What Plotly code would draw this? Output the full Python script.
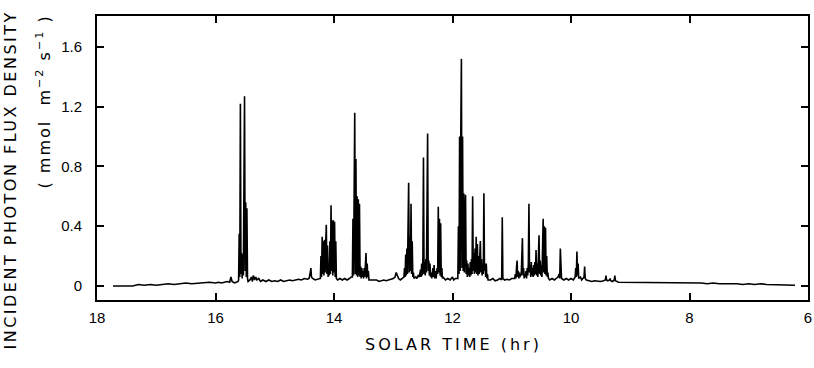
import plotly.graph_objects as go

# Solar time (hr) and incident photon flux density (mmol m-2 s-1)
LATE_AFTERNOON = [(17.73, 0.00), (17.60, 0.00), (17.50, 0.005), (17.40, 0.00), (17.30, 0.01), (17.20, 0.005),
                  (17.10, 0.01), (17.00, 0.005), (16.90, 0.01), (16.80, 0.015), (16.70, 0.01), (16.60, 0.015),
                  (16.50, 0.02), (16.40, 0.015), (16.30, 0.02), (16.20, 0.02), (16.10, 0.025), (16.00, 0.02),
                  (15.95, 0.025), (15.90, 0.02), (15.85, 0.025), (15.80, 0.03), (15.76, 0.025), (15.74, 0.06),
                  (15.72, 0.03), (15.68, 0.02), (15.65, 0.025), (15.62, 0.03)]
FLECK_1555 = [(15.61, 0.04), (15.60, 0.35), (15.59, 0.06), (15.58, 1.22), (15.57, 0.08), (15.56, 0.22),
              (15.55, 0.05), (15.54, 0.21), (15.53, 0.07), (15.52, 0.95), (15.51, 1.27), (15.50, 0.10),
              (15.49, 0.56), (15.48, 0.06), (15.47, 0.52), (15.46, 0.05), (15.45, 0.03)]
GAP_15_14 = [(15.42, 0.04), (15.39, 0.06), (15.38, 0.03), (15.36, 0.07), (15.34, 0.04), (15.32, 0.06),
             (15.30, 0.04), (15.27, 0.05), (15.24, 0.03), (15.20, 0.04), (15.15, 0.03), (15.10, 0.04),
             (15.05, 0.03), (15.00, 0.035), (14.95, 0.03), (14.90, 0.04), (14.85, 0.03), (14.80, 0.035),
             (14.75, 0.04), (14.70, 0.035), (14.65, 0.04), (14.60, 0.045), (14.55, 0.04), (14.50, 0.05),
             (14.45, 0.045), (14.42, 0.05), (14.40, 0.09), (14.39, 0.12), (14.38, 0.06), (14.36, 0.05),
             (14.32, 0.04), (14.28, 0.045), (14.25, 0.05)]
FLECK_1410 = [(14.23, 0.05), (14.22, 0.20), (14.21, 0.06), (14.20, 0.33), (14.19, 0.08), (14.18, 0.30),
              (14.17, 0.07), (14.16, 0.31), (14.15, 0.09), (14.14, 0.28), (14.13, 0.41), (14.12, 0.08),
              (14.11, 0.27), (14.10, 0.06), (14.09, 0.15), (14.08, 0.07), (14.07, 0.30), (14.06, 0.08),
              (14.05, 0.54), (14.04, 0.10), (14.03, 0.44), (14.02, 0.07), (14.01, 0.44), (14.00, 0.09),
              (13.99, 0.43), (13.98, 0.06), (13.97, 0.30), (13.96, 0.05), (13.94, 0.04),
              (13.90, 0.05), (13.86, 0.04), (13.82, 0.05), (13.78, 0.04), (13.74, 0.05), (13.71, 0.06)]
FLECK_1360 = [(13.69, 0.06), (13.68, 0.45), (13.67, 0.07), (13.66, 0.50), (13.65, 1.16), (13.64, 0.08),
              (13.63, 0.85), (13.62, 0.07), (13.61, 0.60), (13.60, 0.06), (13.59, 0.58), (13.58, 0.07),
              (13.57, 0.55), (13.56, 0.06), (13.55, 0.13), (13.54, 0.05), (13.53, 0.12), (13.52, 0.06),
              (13.51, 0.10), (13.50, 0.05), (13.49, 0.12), (13.48, 0.06), (13.47, 0.20), (13.46, 0.22),
              (13.45, 0.05), (13.44, 0.15), (13.43, 0.06), (13.42, 0.10), (13.41, 0.04)]
GAP_13 = [(13.36, 0.04), (13.32, 0.035), (13.28, 0.04), (13.24, 0.03), (13.20, 0.035), (13.16, 0.04),
          (13.12, 0.035), (13.08, 0.04), (13.04, 0.045), (13.00, 0.05), (12.97, 0.06), (12.95, 0.09),
          (12.93, 0.07), (12.91, 0.05), (12.88, 0.04), (12.85, 0.05)]
FLECK_1275 = [(12.82, 0.06), (12.81, 0.12), (12.80, 0.06), (12.79, 0.21), (12.78, 0.07), (12.77, 0.25),
              (12.76, 0.08), (12.75, 0.40), (12.74, 0.69), (12.73, 0.09), (12.72, 0.33), (12.71, 0.10),
              (12.70, 0.55), (12.69, 0.08), (12.68, 0.30), (12.67, 0.06), (12.66, 0.09), (12.65, 0.05),
              (12.62, 0.06), (12.60, 0.05), (12.58, 0.07), (12.56, 0.06)]
FLECK_1245 = [(12.55, 0.08), (12.54, 0.11), (12.53, 0.06), (12.52, 0.15), (12.51, 0.07), (12.50, 0.17),
              (12.49, 0.86), (12.48, 0.08), (12.47, 0.16), (12.46, 0.07), (12.45, 0.18), (12.44, 0.09),
              (12.43, 0.75), (12.42, 1.02), (12.41, 0.10), (12.40, 0.17), (12.39, 0.07), (12.38, 0.15),
              (12.37, 0.06), (12.36, 0.09), (12.35, 0.05), (12.33, 0.12), (12.32, 0.06), (12.31, 0.14),
              (12.30, 0.05), (12.29, 0.10), (12.28, 0.05)]
FLECK_1224 = [(12.27, 0.07), (12.26, 0.12), (12.25, 0.08), (12.24, 0.53), (12.23, 0.09), (12.22, 0.45),
              (12.21, 0.07), (12.20, 0.42), (12.19, 0.06), (12.18, 0.12), (12.17, 0.05), (12.16, 0.06),
              (12.12, 0.04), (12.08, 0.05), (12.04, 0.04), (12.00, 0.06), (11.98, 0.04), (11.95, 0.05),
              (11.92, 0.05)]
FLECK_NOON = [(11.91, 0.05), (11.90, 0.40), (11.89, 0.08), (11.88, 1.00), (11.87, 0.10), (11.86, 1.02),
              (11.85, 1.52), (11.84, 0.12), (11.83, 1.00), (11.82, 0.10), (11.81, 0.62), (11.80, 0.09),
              (11.79, 0.60), (11.78, 0.61), (11.77, 0.08), (11.76, 0.17), (11.75, 0.06), (11.74, 0.15),
              (11.73, 0.07), (11.72, 0.12), (11.71, 0.06), (11.70, 0.16), (11.69, 0.07), (11.68, 0.18),
              (11.67, 0.08), (11.66, 0.60), (11.65, 0.10), (11.64, 0.22), (11.63, 0.08), (11.62, 0.25),
              (11.61, 0.09), (11.60, 0.33), (11.59, 0.08), (11.58, 0.28), (11.57, 0.07), (11.56, 0.20),
              (11.55, 0.08), (11.54, 0.25), (11.53, 0.30), (11.52, 0.09), (11.51, 0.18), (11.50, 0.07),
              (11.49, 0.15), (11.48, 0.08), (11.47, 0.62), (11.46, 0.10), (11.45, 0.15), (11.44, 0.06),
              (11.43, 0.15), (11.42, 0.05), (11.41, 0.08), (11.40, 0.04)]
GAP_11 = [(11.36, 0.04), (11.32, 0.05), (11.28, 0.035), (11.24, 0.04), (11.20, 0.05), (11.17, 0.04),
          (11.16, 0.46), (11.15, 0.05), (11.12, 0.04), (11.08, 0.045), (11.04, 0.04), (11.00, 0.05),
          (10.97, 0.05)]
FLECK_1070 = [(10.95, 0.05), (10.94, 0.08), (10.93, 0.05), (10.92, 0.12), (10.91, 0.17), (10.90, 0.06),
              (10.89, 0.10), (10.88, 0.05), (10.87, 0.09), (10.86, 0.06), (10.85, 0.08), (10.84, 0.07),
              (10.83, 0.20), (10.82, 0.32), (10.81, 0.07), (10.80, 0.12), (10.79, 0.05), (10.78, 0.08),
              (10.77, 0.06), (10.76, 0.10), (10.75, 0.05), (10.74, 0.12), (10.73, 0.07), (10.72, 0.15),
              (10.71, 0.55), (10.70, 0.09), (10.69, 0.14), (10.68, 0.06), (10.67, 0.16), (10.66, 0.07),
              (10.65, 0.12), (10.64, 0.06), (10.63, 0.14), (10.62, 0.07), (10.61, 0.16), (10.60, 0.08),
              (10.59, 0.24), (10.58, 0.07), (10.57, 0.15), (10.56, 0.06), (10.55, 0.20), (10.54, 0.34),
              (10.53, 0.08), (10.52, 0.17), (10.51, 0.07), (10.50, 0.14), (10.49, 0.06), (10.48, 0.18),
              (10.47, 0.45), (10.46, 0.09), (10.45, 0.40), (10.44, 0.08), (10.43, 0.39), (10.42, 0.07),
              (10.41, 0.20), (10.40, 0.06), (10.39, 0.09), (10.38, 0.05), (10.36, 0.04)]
LATE_MORNING = [(10.32, 0.05), (10.28, 0.04), (10.25, 0.05), (10.22, 0.06), (10.20, 0.08), (10.19, 0.05),
                (10.18, 0.25), (10.17, 0.10), (10.16, 0.05), (10.12, 0.04), (10.08, 0.05), (10.04, 0.04),
                (10.00, 0.05), (9.96, 0.04), (9.93, 0.06), (9.92, 0.12), (9.91, 0.06), (9.90, 0.23),
                (9.89, 0.07), (9.88, 0.15), (9.87, 0.05), (9.84, 0.06), (9.82, 0.04), (9.80, 0.05),
                (9.78, 0.06), (9.77, 0.13), (9.76, 0.05), (9.74, 0.04), (9.70, 0.035)]
EARLY_MORNING = [(9.65, 0.03), (9.60, 0.035), (9.55, 0.03), (9.50, 0.03), (9.45, 0.035), (9.42, 0.04),
                 (9.41, 0.07), (9.40, 0.04), (9.38, 0.035), (9.35, 0.04), (9.34, 0.05), (9.33, 0.035),
                 (9.30, 0.03), (9.27, 0.04), (9.26, 0.07), (9.25, 0.035), (9.20, 0.025), (9.10, 0.025),
                 (9.00, 0.02), (8.90, 0.025), (8.80, 0.02), (8.70, 0.025), (8.60, 0.02), (8.50, 0.025),
                 (8.40, 0.02), (8.30, 0.02), (8.20, 0.025), (8.10, 0.02), (8.00, 0.02), (7.90, 0.025),
                 (7.80, 0.02), (7.70, 0.015), (7.60, 0.02), (7.50, 0.015), (7.40, 0.015), (7.30, 0.02),
                 (7.20, 0.015), (7.10, 0.01), (7.00, 0.015), (6.90, 0.01), (6.80, 0.015), (6.70, 0.01),
                 (6.60, 0.01), (6.50, 0.005), (6.40, 0.01), (6.30, 0.005), (6.22, 0.005)]

SEGMENTS = [LATE_AFTERNOON, FLECK_1555, GAP_15_14, FLECK_1410, FLECK_1360, GAP_13, FLECK_1275,
            FLECK_1245, FLECK_1224, FLECK_NOON, GAP_11, FLECK_1070, LATE_MORNING, EARLY_MORNING]

X_TICKS = [18, 16, 14, 12, 10, 8, 6]
Y_TICKS = [0, 0.4, 0.8, 1.2, 1.6]
Y_TICK_LABELS = ["0", "0.4", "0.8", "1.2", "1.6"]

time_hr = [p[0] for seg in SEGMENTS for p in seg]
pfd = [p[1] for seg in SEGMENTS for p in seg]

fig = go.Figure()
fig.add_trace(go.Scatter(x=time_hr, y=pfd, mode="lines",
                         line=dict(color="black", width=1.6), hoverinfo="skip", showlegend=False))

tick_font = dict(family="Liberation Sans, Arial, sans-serif", size=15, color="black")
fig.update_xaxes(range=[18, 6], tickvals=X_TICKS, ticktext=[str(v) for v in X_TICKS],
                 ticks="inside", ticklen=7, tickwidth=1.5, tickcolor="black",
                 showline=True, linecolor="black", linewidth=2, mirror="ticks",
                 showgrid=False, zeroline=False, tickfont=tick_font, ticklabelstandoff=3,
                 ticklabeloverflow="allow")
fig.update_yaxes(range=[-0.094, 1.807], tickvals=Y_TICKS, ticktext=Y_TICK_LABELS,
                 ticks="inside", ticklen=7, tickwidth=1.5, tickcolor="black",
                 showline=True, linecolor="black", linewidth=2, mirror="ticks",
                 showgrid=False, zeroline=False, tickfont=tick_font, ticklabelstandoff=10)

title_font = dict(family="DejaVu Sans, sans-serif", size=16, color="black")
fig.add_annotation(text='<span style="letter-spacing:3px">SOLAR TIME (hr)</span>',
                   xref="paper", yref="paper", x=0.502, y=-0.158, xanchor="center", yanchor="middle",
                   showarrow=False, font=title_font)
fig.add_annotation(text='<span style="letter-spacing:2.5px">INCIDENT PHOTON FLUX DENSITY</span>',
                   xref="paper", yref="paper", x=-0.123, y=0.4225, xanchor="center", yanchor="middle",
                   textangle=-90, showarrow=False, font=title_font)
fig.add_annotation(text='<span style="letter-spacing:2px">( mmol  m<sup>−2</sup> s<sup>−1</sup> )</span>',
                   xref="paper", yref="paper", x=-0.0755, y=0.70, xanchor="center", yanchor="middle",
                   textangle=-90, showarrow=False, font=title_font)

fig.update_layout(width=814, height=368, margin=dict(l=97, r=2, t=16, b=68),
                  plot_bgcolor="white", paper_bgcolor="white", showlegend=False)
# remove the default page margin so the figure sits at the window's top-left corner
fig.write_html("out.html", config={"displayModeBar": False},
               post_script="document.body.style.margin='0';document.body.style.overflow='hidden';")
